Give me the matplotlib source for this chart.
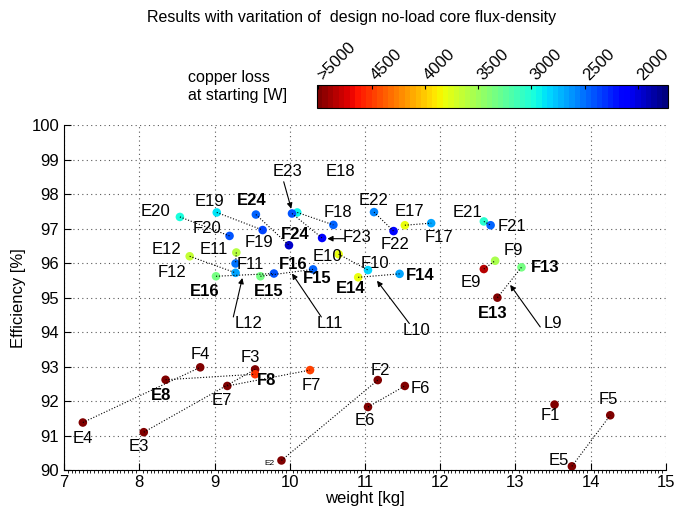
import numpy as np
import matplotlib.pyplot as plt
from matplotlib.colors import Normalize
from matplotlib.cm import ScalarMappable
from matplotlib.ticker import MultipleLocator
from matplotlib.transforms import ScaledTranslation

plt.rcParams['font.family'] = ['Liberation Sans', 'DejaVu Sans']

# design points: E = start of variation, F = end of variation
e_names = ['E2', 'E3', 'E4', 'E5', 'E6', 'E7', 'E8', 'E9', 'E10', 'E11', 'E12', 'E13',
           'E14', 'E15', 'E16', 'E17', 'E18', 'E19', 'E20', 'E21', 'E22', 'E23', 'E24']
e_weight = [9.89, 8.06, 7.25, 13.75, 11.04, 9.17, 8.35, 12.58, 10.65, 9.29, 8.67, 12.76,
            10.91, 9.61, 9.02, 11.53, 10.10, 9.03, 8.54, 12.58, 11.12, 10.03, 9.55]
e_eff = [90.28, 91.10, 91.38, 90.11, 91.83, 92.44, 92.62, 95.83, 96.26, 96.31, 96.20, 95.00,
         95.59, 95.62, 95.62, 97.10, 97.47, 97.47, 97.34, 97.21, 97.48, 97.44, 97.41]
e_loss = [5300, 5300, 5300, 5300, 5300, 5300, 5300, 4850, 3800, 3600, 3650, 5300,
          3800, 3350, 3350, 3800, 2950, 2900, 3000, 3050, 2550, 2400, 2450]

f_names = ['F1', 'F2', 'F3', 'F4', 'F5', 'F6', 'F7', 'F8', 'F9', 'F10', 'F11', 'F12', 'F13',
           'F14', 'F15', 'F16', 'F17', 'F18', 'F19', 'F20', 'F21', 'F22', 'F23', 'F24']
f_weight = [13.52, 11.17, 9.54, 8.81, 14.26, 11.53, 10.27, 9.54, 12.73, 11.04, 9.28, 9.28, 13.08,
            11.46, 10.31, 9.79, 11.88, 10.58, 9.64, 9.20, 12.67, 11.38, 10.43, 9.99]
f_eff = [91.90, 92.61, 92.92, 92.98, 91.59, 92.44, 92.90, 92.78, 96.07, 95.80, 95.99, 95.72, 95.88,
         95.69, 95.82, 95.70, 97.16, 97.11, 96.96, 96.79, 97.10, 96.93, 96.73, 96.52]
f_loss = [5300, 5300, 5300, 5300, 5300, 5300, 4450, 4500, 3550, 2850, 2500, 2650, 3350,
          2650, 2450, 2400, 2650, 2450, 2350, 2400, 2450, 2150, 2100, 1950]

cbar_ticks = [5000, 4500, 4000, 3500, 3000, 2500, 2000]
cbar_labels = ['>5000', '4500', '4000', '3500', '3000', '2500', '2000']

# text labels: (text, x, y, bold, size)
labels = [
    ('F4', 8.81, 93.36, False, 12), ('F3', 9.47, 93.27, False, 12), ('F8', 9.69, 92.61, True, 12),
    ('F7', 10.29, 92.46, False, 12), ('E8', 8.29, 92.17, True, 12), ('E7', 9.10, 92.03, False, 12),
    ('E4', 7.25, 90.92, False, 12), ('E3', 8.00, 90.68, False, 12), ('E2', 9.73, 90.18, False, 6),
    ('F2', 11.20, 92.90, False, 12), ('F6', 11.74, 92.37, False, 12), ('E6', 11.00, 91.45, False, 12),
    ('F1', 13.46, 91.57, False, 12), ('F5', 14.23, 92.05, False, 12), ('E5', 13.57, 90.29, False, 12),
    ('E23', 9.97, 98.65, False, 12), ('E20', 8.22, 97.51, False, 12), ('E19', 8.94, 97.80, False, 12),
    ('E24', 9.49, 97.83, True, 12), ('F20', 8.90, 97.00, False, 12), ('F19', 9.59, 96.59, False, 12),
    ('F24', 10.07, 96.84, True, 12), ('E12', 8.36, 96.40, False, 12), ('E11', 8.99, 96.40, False, 12),
    ('F12', 8.44, 95.72, False, 12), ('F11', 9.48, 95.96, False, 12), ('F16', 10.05, 95.96, True, 12),
    ('E16', 8.87, 95.17, True, 12), ('E15', 9.72, 95.17, True, 12), ('L12', 9.45, 94.25, False, 12),
    ('E18', 10.68, 98.65, False, 12), ('F18', 10.64, 97.47, False, 12), ('F23', 10.90, 96.74, False, 12),
    ('E22', 11.12, 97.83, False, 12), ('F22', 11.40, 96.55, False, 12), ('E17', 11.59, 97.51, False, 12),
    ('F17', 11.98, 96.74, False, 12), ('E10', 10.50, 96.18, False, 12), ('F10', 11.13, 96.00, False, 12),
    ('E14', 10.81, 95.27, True, 12), ('F14', 11.73, 95.63, True, 12), ('F15', 10.36, 95.56, True, 12),
    ('L11', 10.53, 94.25, False, 12), ('L10', 11.68, 94.06, False, 12), ('E21', 12.36, 97.47, False, 12),
    ('E9', 12.41, 95.43, False, 12), ('F21', 12.95, 97.05, False, 12), ('F9', 12.97, 96.36, False, 12),
    ('F13', 13.40, 95.88, True, 12), ('E13', 12.70, 94.54, True, 12), ('L9', 13.50, 94.25, False, 12),
]

# arrows: (tail x, tail y, tip x, tip y)
arrows = [
    (9.25, 94.44, 9.37, 95.57),
    (10.42, 94.44, 10.03, 95.70),
    (11.59, 94.25, 11.16, 95.49),
    (13.33, 94.15, 12.93, 95.37),
    (9.92, 98.36, 10.02, 97.58),
    (10.73, 96.71, 10.50, 96.71),
]

cmap = plt.get_cmap('jet', 64)
norm = Normalize(vmin=1718, vmax=5015, clip=True)

fig = plt.figure(figsize=(6.74, 5.11), dpi=100)
ax = fig.add_axes([0.095, 0.080, 0.893, 0.675])

ax.scatter(e_weight, e_eff, c=cmap(norm(e_loss)), s=38, edgecolors='none', zorder=3)
ax.scatter(f_weight, f_eff, c=cmap(norm(f_loss)), s=38, edgecolors='none', zorder=3)

# connect E_n with F_n
for name, xe, ye in zip(e_names, e_weight, e_eff):
    i = f_names.index('F' + name[1:])
    ax.plot([xe, f_weight[i]], [ye, f_eff[i]], color='k', lw=0.8,
            linestyle=(0, (1, 1.6)), zorder=4)

for text, x, y, bold, size in labels:
    ax.text(x, y, text, ha='center', va='center', fontsize=size,
            fontweight='bold' if bold else 'normal', zorder=5)

for x0, y0, x1, y1 in arrows:
    ax.annotate('', xy=(x1, y1), xytext=(x0, y0),
                arrowprops=dict(arrowstyle='-|>', color='k', lw=0.8, mutation_scale=8,
                                shrinkA=0, shrinkB=0), zorder=5)

ax.set_xlim(7, 15)
ax.set_ylim(90, 100)
ax.set_xticks(np.arange(7, 16, 1))
ax.set_yticks(np.arange(90, 101, 1))
ax.xaxis.set_minor_locator(MultipleLocator(0.05))
ax.grid(True, which='major', linestyle=(0, (1, 3)), color='0.35', lw=0.8)
ax.set_axisbelow(True)
ax.spines['top'].set_visible(False)
ax.spines['right'].set_visible(False)
ax.tick_params(which='major', direction='in', labelsize=12, length=5)
ax.tick_params(axis='x', which='minor', direction='out', length=2, width=0.6)
ax.set_xlabel('weight [kg]', fontsize=12, labelpad=1)
ax.set_ylabel('Efficiency [%]', fontsize=12, labelpad=4)

fig.text(0.522, 0.966, 'Results with varitation of  design no-load core flux-density',
         ha='center', va='center', fontsize=11.5)
fig.text(0.279, 0.831, 'copper loss\nat starting [W]', ha='left', va='center',
         fontsize=11.5, linespacing=1.25)

cax = fig.add_axes([0.470, 0.789, 0.521, 0.045])
cb = fig.colorbar(ScalarMappable(norm=norm, cmap=cmap), cax=cax, orientation='horizontal')
cax.invert_xaxis()
cb.set_ticks(cbar_ticks)
cax.xaxis.set_ticks_position('top')
cb.set_ticklabels(cbar_labels)
cax.tick_params(direction='in', length=3, labelsize=12, pad=1)
shift = ScaledTranslation(5 / 72, 0, fig.dpi_scale_trans)
for lbl in cax.get_xticklabels():
    lbl.set_rotation(45)
    lbl.set_ha('left')
    lbl.set_va('bottom')
    lbl.set_rotation_mode('anchor')
    lbl.set_transform(lbl.get_transform() + shift)
cb.outline.set_linewidth(0.8)

fig.savefig('out.png', dpi=100)
